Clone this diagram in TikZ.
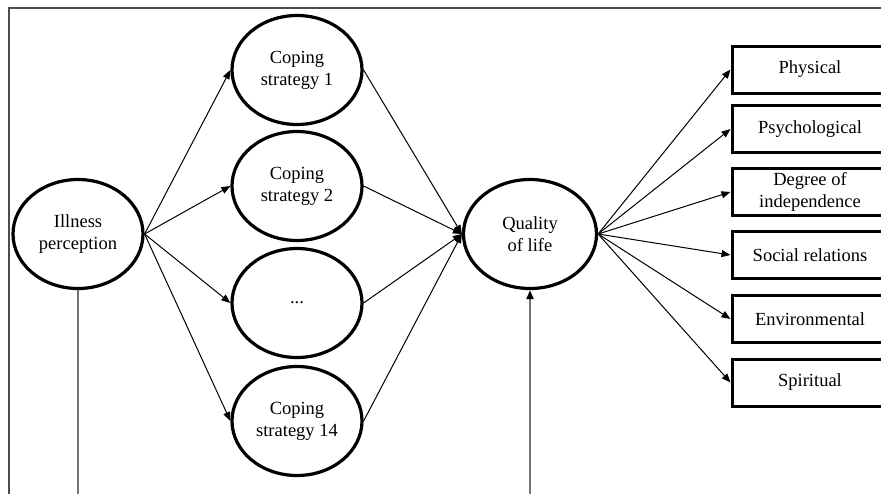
\documentclass[tikz,border=0pt]{standalone}
\usepackage{fontspec}
\setmainfont{Liberation Serif}
\usetikzlibrary{arrows.meta,shapes.geometric}
\begin{document}
\begin{tikzpicture}[x=1pt,y=-1pt,
  oval/.style={ellipse,draw=black,line width=3.2pt,minimum width=130pt,minimum height=109pt,inner sep=0pt,align=center,font=\fontsize{18.5}{22}\selectfont},
  dimbox/.style={rectangle,draw=black,line width=3pt,minimum width=156pt,minimum height=47pt,inner sep=0pt,align=center,font=\fontsize{18.5}{22}\selectfont},
  arr/.style={line width=1pt,-{Triangle[length=9pt,width=7pt]}},
  frame/.style={draw=black!70,line width=1.4pt},
  vline/.style={draw=black!55,line width=2pt}]
\useasboundingbox (0,0) rectangle (881,493);
\clip (0,0) rectangle (881,493);
\fill[white] (0,0) rectangle (881,493);
\draw[frame] (9,500) -- (9,8) -- (890,8);
\node[oval] (ill) at (78,234) {Illness\\perception};
\node[oval] (c1) at (297,70) {Coping\\strategy 1};
\node[oval] (c2) at (297,186) {Coping\\strategy 2};
\node[oval] (c3) at (297,303) {...};
\node[oval] (c14) at (297,421) {Coping\\strategy 14};
\node[oval,minimum width=133pt] (q) at (530,234) {Quality\\of life};
\node[dimbox] (b1) at (810,69.5) {Physical};
\node[dimbox] (b2) at (810,129) {Psychological};
\node[dimbox] (b3) at (810,192) {Degree of\\independence};
\node[dimbox] (b4) at (810,255) {Social relations};
\node[dimbox] (b5) at (810,319) {Environmental};
\node[dimbox] (b6) at (810,382.5) {Spiritual};
\coordinate (bl) at (78,500);
\coordinate (bq) at (530,500);
\foreach \n in {c1,c2,c3,c14} {
  \draw[arr] (ill.east) -- (\n.west);
  \draw[arr] (\n.east) -- (q.west);
}
\foreach \n in {b1,b2,b3,b4,b5,b6} {
  \draw[arr] (q.east) -- (\n.west);
}
\draw[vline] (ill.south) -- (bl);
\draw[vline,-{Triangle[length=9pt,width=7pt,color=black]}] (bq) -- (q.south);
\end{tikzpicture}
\end{document}
